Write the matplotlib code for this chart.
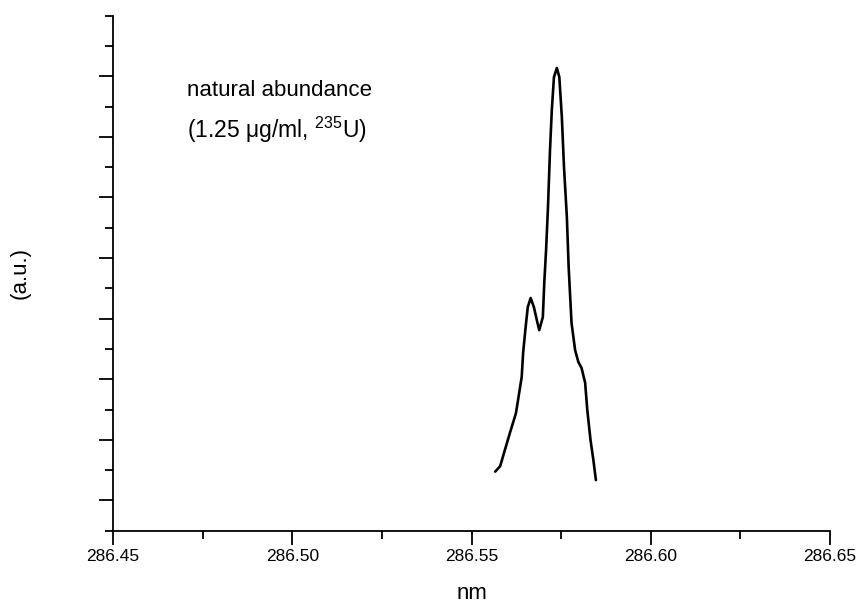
import matplotlib
matplotlib.use("Agg")
import matplotlib.pyplot as plt
from matplotlib.ticker import MultipleLocator

plt.rcParams['font.family'] = ['Liberation Sans', 'DejaVu Sans']
plt.rcParams['mathtext.fontset'] = 'custom'
plt.rcParams['mathtext.rm'] = 'Liberation Sans'
plt.rcParams['mathtext.it'] = 'Liberation Sans'

wavelength_nm = [286.5566, 286.5580, 286.5593, 286.5607, 286.5624, 286.5633, 286.5640,
                 286.5644, 286.5651, 286.5657, 286.5665, 286.5674, 286.5684, 286.5689,
                 286.5699, 286.5703, 286.5708, 286.5713, 286.5719, 286.5724, 286.5730,
                 286.5738, 286.5745, 286.5752, 286.5758, 286.5766, 286.5771, 286.5779,
                 286.5789, 286.5798, 286.5807, 286.5817, 286.5823, 286.5832, 286.5840,
                 286.5847]
intensity = [1.95, 2.13, 2.66, 3.22, 3.88, 4.55, 5.07, 5.87, 6.72, 7.38, 7.68, 7.38,
             6.86, 6.62, 7.05, 8.18, 9.26, 10.58, 12.56, 13.88, 14.97, 15.27, 14.97,
             13.65, 12.00, 10.35, 8.70, 6.86, 5.96, 5.57, 5.37, 4.88, 3.98, 2.99,
             2.33, 1.67]

x_ticks = [286.45, 286.50, 286.55, 286.60, 286.65]
x_ticklabels = ["286.45", "286.50", "286.55", "286.60", "286.65"]

fig = plt.figure(figsize=(8.64, 6.06), dpi=100)
ax = fig.add_axes([113/864, 1 - 530.7/606, (830 - 113)/864, (530.7 - 15.6)/606])

ax.plot(wavelength_nm, intensity, color='black', lw=1.9,
        solid_joinstyle='round', solid_capstyle='round')

ax.set_xlim(286.45, 286.65)
ax.set_ylim(0, 17)
ax.set_xticks(x_ticks)
ax.set_xticklabels(x_ticklabels, fontsize=12.5)
ax.xaxis.set_minor_locator(MultipleLocator(0.025))
ax.set_yticks([1, 3, 5, 7, 9, 11, 13, 15])
ax.set_yticklabels([])
ax.yaxis.set_minor_locator(MultipleLocator(1))

for s in ['top', 'right']:
    ax.spines[s].set_visible(False)
for s in ['left', 'bottom']:
    ax.spines[s].set_linewidth(1.3)
ax.tick_params(which='major', length=10, width=1.3, direction='out', pad=3)
ax.tick_params(which='minor', length=6, width=1.3, direction='out')

ax.set_xlabel("nm", fontsize=16, labelpad=14)
ax.set_ylabel("(a.u.)", fontsize=16, labelpad=46)

fig.text(187/864, 1 - 96/606, "natural abundance", fontsize=16, ha='left', va='baseline')
fig.text(187/864, 1 - 138/606, "(1.25 μg/ml, $^{235}$U)", fontsize=16.5, ha='left', va='baseline')

fig.savefig("out.png", dpi=100)
